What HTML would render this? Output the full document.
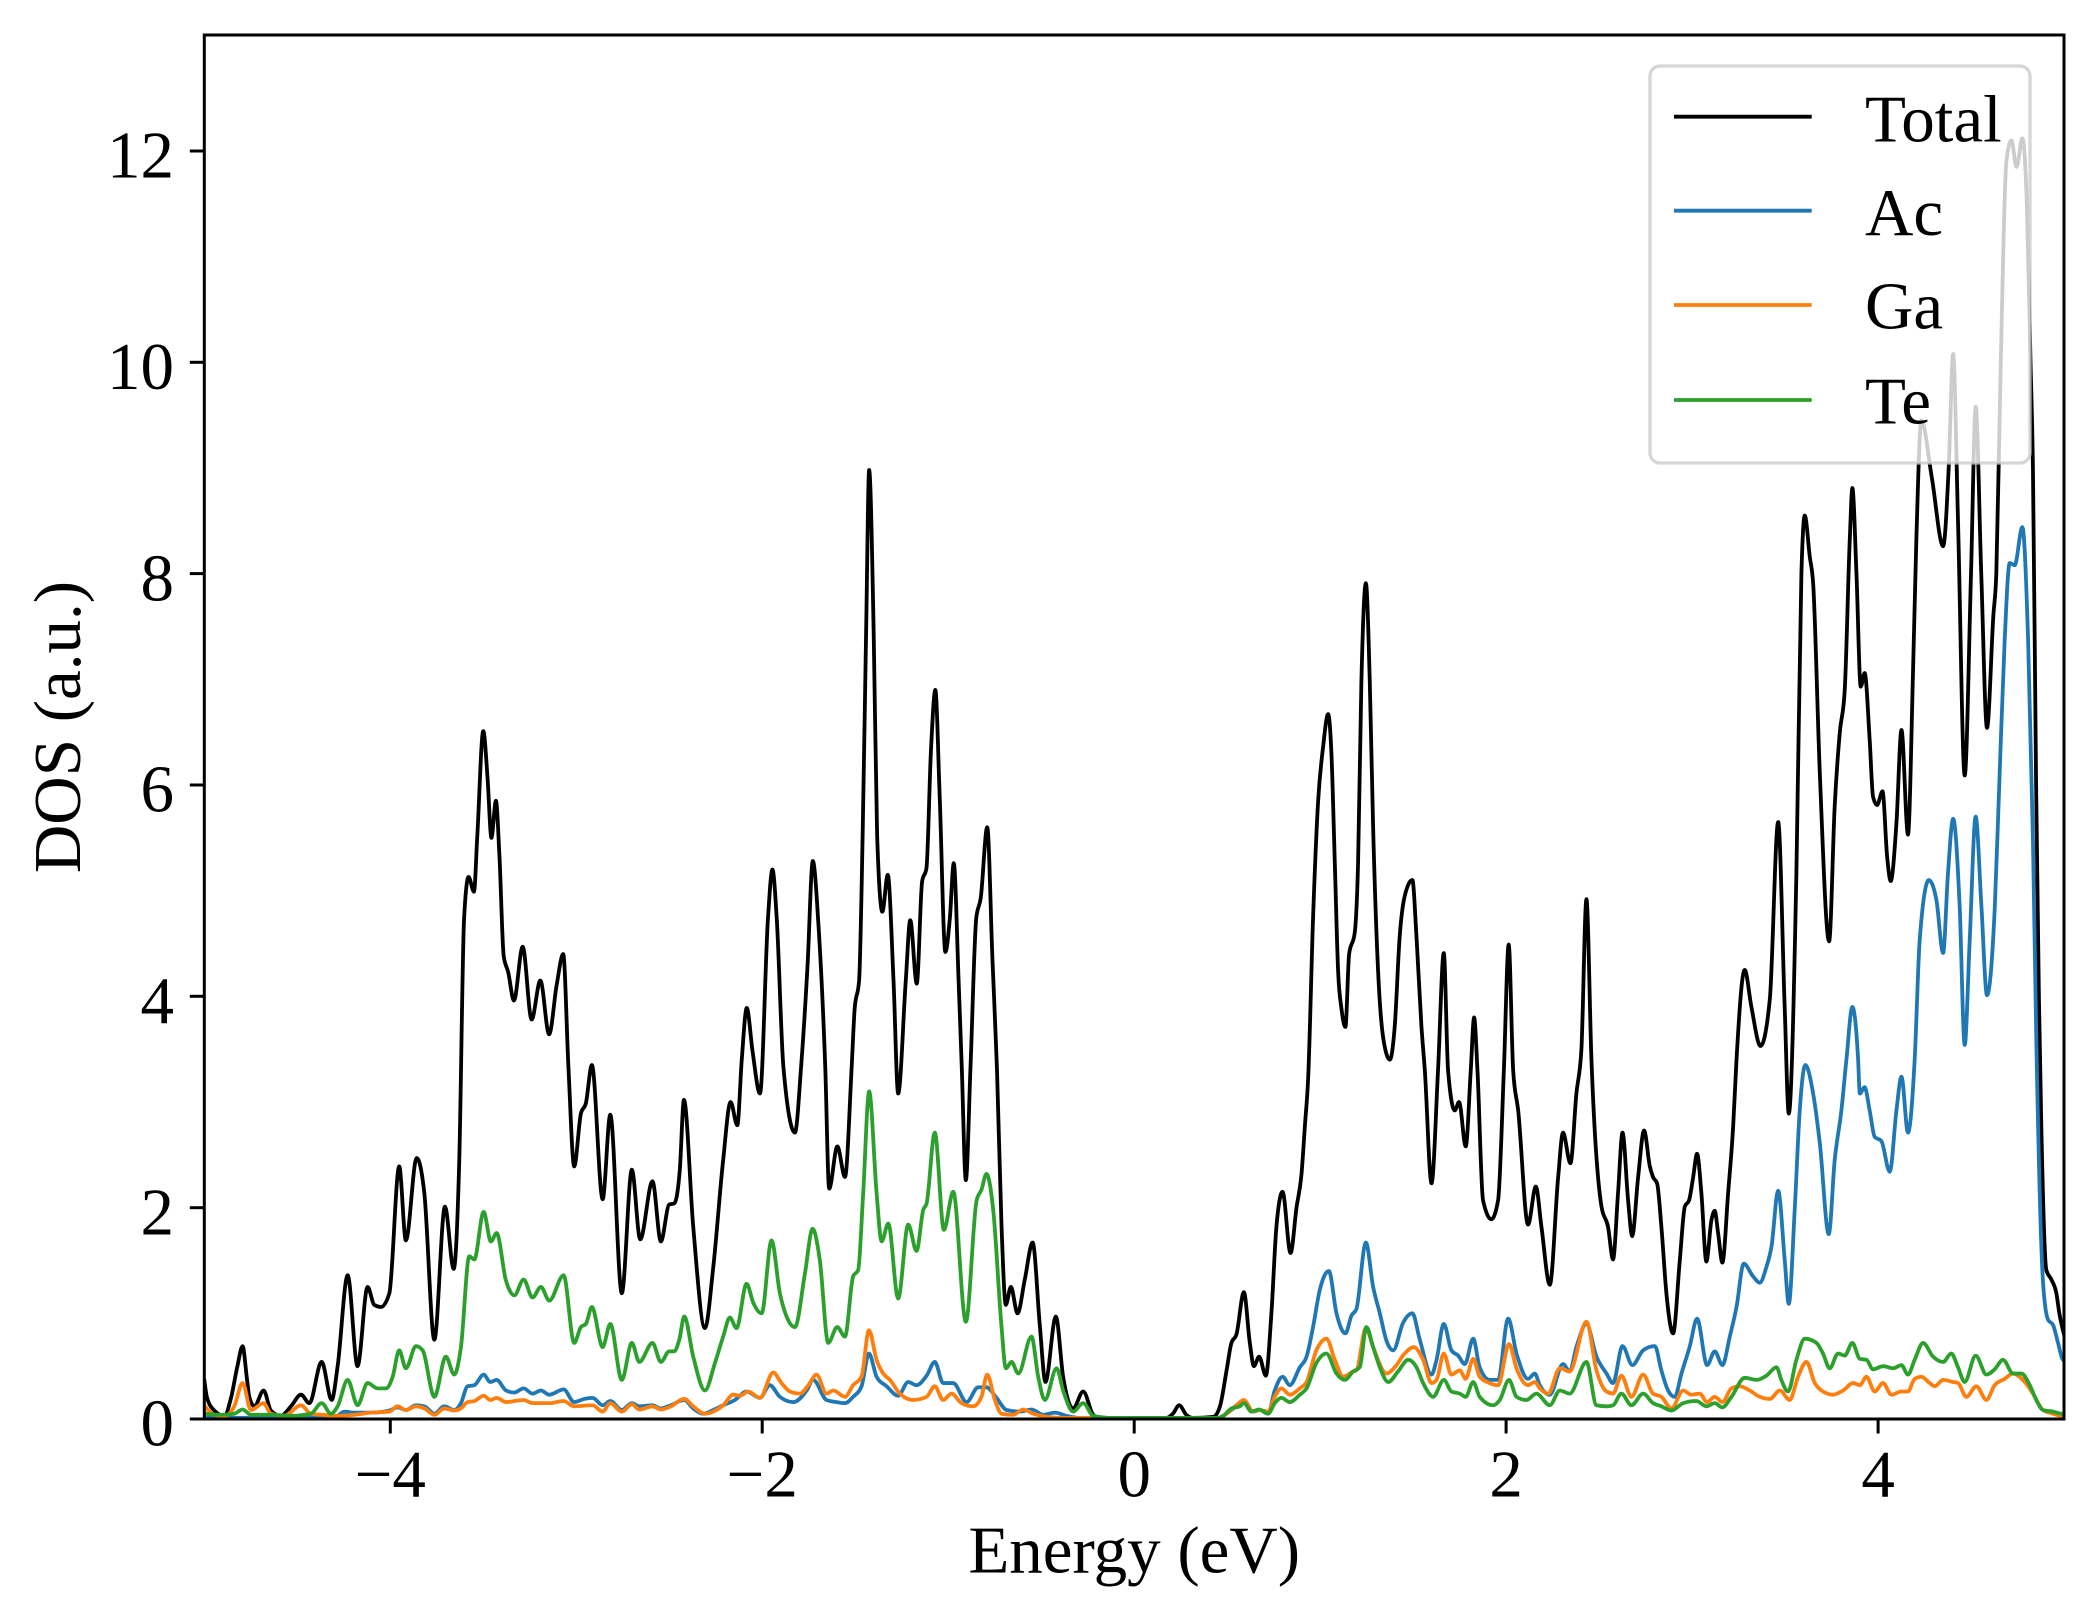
<!DOCTYPE html>
<html>
<head>
<meta charset="utf-8">
<style>
html,body{margin:0;padding:0;background:#fff;}
svg{display:block;}
text{font-family:"Liberation Serif","Times New Roman",serif;fill:#000;}
</style>
</head>
<body>
<svg id="chart" width="2097" height="1617" viewBox="0 0 2097 1617" xmlns="http://www.w3.org/2000/svg">
<rect x="0" y="0" width="2097" height="1617" fill="#fff"/>
<defs>
<clipPath id="ax"><rect x="204.3" y="35" width="1859.7" height="1384"/></clipPath>
</defs>

<g clip-path="url(#ax)">
<g transform="matrix(185.97 0 0 -105.67 1134.15 1419)" fill="none" stroke-linejoin="round" stroke-linecap="round">
<polyline class="d" vector-effect="non-scaling-stroke" stroke="#000000" stroke-width="3.8" points="-5.0,0.37 -4.985,0.2 -4.946,0.08 -4.892,0.03 -4.855,0.21 -4.822,0.5 -4.794,0.69 -4.772,0.4 -4.758,0.21 -4.731,0.12 -4.681,0.27 -4.642,0.08 -4.588,0.03 -4.534,0.12 -4.48,0.23 -4.435,0.15 -4.369,0.54 -4.315,0.18 -4.283,0.5 -4.229,1.36 -4.176,0.5 -4.122,1.25 -4.086,1.08 -4.05,1.06 -4.005,1.19 -3.952,2.39 -3.916,1.69 -3.858,2.47 -3.817,2.14 -3.763,0.75 -3.706,2.01 -3.659,1.42 -3.629,2.45 -3.603,4.74 -3.579,5.13 -3.55,4.99 -3.532,5.52 -3.5,6.51 -3.477,6.07 -3.456,5.5 -3.432,5.85 -3.413,5.33 -3.39,4.38 -3.366,4.23 -3.335,3.96 -3.288,4.47 -3.24,3.78 -3.193,4.15 -3.146,3.64 -3.105,4.11 -3.07,4.4 -3.042,3.33 -3.011,2.39 -2.975,2.89 -2.948,2.99 -2.916,3.35 -2.858,2.08 -2.817,2.88 -2.755,1.19 -2.701,2.36 -2.656,1.7 -2.59,2.25 -2.545,1.68 -2.5,2.03 -2.473,2.04 -2.443,2.36 -2.421,3.02 -2.371,1.82 -2.308,0.86 -2.263,1.44 -2.21,2.45 -2.17,3.0 -2.134,2.78 -2.11,3.4 -2.083,3.89 -2.052,3.48 -2.012,3.08 -1.969,4.74 -1.945,5.2 -1.922,4.74 -1.886,3.33 -1.824,2.71 -1.791,3.33 -1.756,4.3 -1.728,5.28 -1.697,4.66 -1.661,3.33 -1.64,2.18 -1.596,2.58 -1.555,2.29 -1.519,3.33 -1.503,3.88 -1.479,4.15 -1.46,5.52 -1.441,7.48 -1.425,8.98 -1.401,7.48 -1.382,5.52 -1.354,4.8 -1.325,5.15 -1.294,4.15 -1.269,3.08 -1.228,4.15 -1.204,4.72 -1.169,4.12 -1.14,5.09 -1.117,5.21 -1.093,6.31 -1.069,6.9 -1.046,5.91 -1.015,4.42 -0.991,4.74 -0.97,5.26 -0.944,4.15 -0.927,3.33 -0.905,2.26 -0.88,3.33 -0.849,4.74 -0.825,4.93 -0.79,5.6 -0.762,4.35 -0.738,3.33 -0.713,1.82 -0.69,1.08 -0.663,1.25 -0.627,1.0 -0.588,1.32 -0.546,1.67 -0.507,0.88 -0.477,0.35 -0.421,0.97 -0.382,0.4 -0.328,0.1 -0.274,0.26 -0.22,0.04 -0.185,0.01 0.174,0.01 0.21,0.054 0.242,0.13 0.281,0.038 0.317,0.01 0.425,0.02 0.461,0.117 0.497,0.46 0.523,0.72 0.55,0.8 0.59,1.2 0.622,0.72 0.644,0.5 0.672,0.59 0.708,0.41 0.738,1.0 0.765,1.82 0.798,2.15 0.841,1.57 0.873,2.0 0.9,2.32 0.918,2.77 0.936,3.24 0.962,4.74 0.989,5.84 1.016,6.36 1.043,6.67 1.061,6.29 1.079,5.26 1.097,4.23 1.115,3.88 1.136,3.71 1.156,4.4 1.186,4.6 1.204,5.26 1.222,6.98 1.246,7.91 1.267,6.98 1.285,5.6 1.312,4.23 1.339,3.61 1.375,3.4 1.401,3.71 1.428,4.57 1.455,4.95 1.496,5.1 1.518,4.57 1.545,3.71 1.563,3.3 1.599,2.23 1.634,3.3 1.665,4.41 1.688,3.3 1.724,2.92 1.747,3.0 1.783,2.58 1.81,3.3 1.828,3.8 1.846,3.3 1.876,2.07 1.921,1.89 1.957,2.07 1.988,3.3 2.014,4.49 2.038,3.3 2.065,2.92 2.118,1.84 2.16,2.2 2.19,1.82 2.235,1.27 2.28,2.29 2.306,2.71 2.346,2.42 2.378,3.08 2.405,3.5 2.432,4.92 2.459,3.4 2.513,2.01 2.548,1.82 2.575,1.51 2.602,2.14 2.626,2.71 2.656,2.07 2.678,1.73 2.71,2.29 2.742,2.73 2.773,2.39 2.79,2.29 2.812,2.23 2.835,1.82 2.862,1.19 2.898,0.81 2.934,1.5 2.961,2.01 2.984,2.07 3.006,2.29 3.027,2.51 3.05,2.14 3.077,1.49 3.104,1.88 3.122,1.97 3.14,1.76 3.163,1.48 3.194,2.14 3.221,2.77 3.239,3.4 3.283,4.25 3.319,3.9 3.368,3.53 3.418,3.97 3.463,5.65 3.498,3.9 3.52,2.89 3.561,5.16 3.588,8.0 3.606,8.55 3.633,8.16 3.651,7.91 3.687,6.11 3.737,4.52 3.767,5.8 3.794,6.49 3.821,6.9 3.848,8.32 3.862,8.81 3.884,8.0 3.907,6.93 3.928,7.06 3.955,6.43 3.973,5.89 3.995,5.81 4.024,5.94 4.049,5.32 4.068,5.09 4.099,5.64 4.126,6.52 4.161,5.53 4.188,7.06 4.206,8.32 4.233,9.45 4.29,8.9 4.35,8.26 4.38,9.0 4.404,10.08 4.43,8.5 4.466,6.09 4.5,8.0 4.525,9.58 4.555,8.0 4.586,6.54 4.62,7.6 4.636,8.0 4.66,10.0 4.69,11.9 4.717,12.1 4.745,11.85 4.776,12.12 4.8,11.5 4.82,10.0 4.833,9.0 4.85,6.0 4.865,4.0 4.878,2.77 4.905,1.41 4.932,1.32 4.959,1.19 4.975,1.0 5.0,0.8"/>
<polyline class="d" vector-effect="non-scaling-stroke" stroke="#1f77b4" stroke-width="3.8" points="-5.0,0.01 -4.3,0.015 -4.247,0.07 -4.194,0.06 -4.104,0.06 -4.005,0.08 -3.961,0.11 -3.916,0.085 -3.862,0.13 -3.817,0.12 -3.763,0.05 -3.71,0.12 -3.656,0.085 -3.62,0.15 -3.584,0.31 -3.548,0.32 -3.498,0.42 -3.462,0.35 -3.428,0.37 -3.378,0.27 -3.333,0.25 -3.283,0.29 -3.235,0.24 -3.19,0.27 -3.145,0.23 -3.068,0.28 -3.011,0.16 -2.957,0.19 -2.912,0.2 -2.858,0.13 -2.817,0.17 -2.755,0.085 -2.701,0.15 -2.661,0.12 -2.59,0.13 -2.545,0.1 -2.491,0.13 -2.419,0.18 -2.371,0.1 -2.317,0.05 -2.263,0.085 -2.21,0.13 -2.147,0.18 -2.084,0.26 -2.012,0.2 -1.959,0.32 -1.905,0.21 -1.833,0.16 -1.761,0.27 -1.726,0.37 -1.654,0.18 -1.6,0.16 -1.555,0.15 -1.511,0.21 -1.466,0.31 -1.426,0.62 -1.385,0.4 -1.331,0.31 -1.269,0.22 -1.215,0.35 -1.17,0.32 -1.116,0.41 -1.072,0.54 -1.027,0.34 -0.973,0.34 -0.901,0.16 -0.839,0.3 -0.794,0.3 -0.74,0.2 -0.686,0.085 -0.614,0.07 -0.552,0.09 -0.489,0.04 -0.426,0.06 -0.364,0.03 -0.292,0.01 0.45,0.01 0.479,0.03 0.55,0.12 0.59,0.16 0.64,0.07 0.676,0.085 0.72,0.05 0.756,0.27 0.798,0.4 0.837,0.32 0.891,0.49 0.927,0.59 0.962,0.87 0.998,1.22 1.047,1.4 1.088,1.0 1.136,0.81 1.169,0.98 1.195,1.04 1.246,1.67 1.285,1.25 1.321,1.0 1.357,0.74 1.393,0.65 1.446,0.91 1.496,1.0 1.536,0.75 1.599,0.42 1.626,0.56 1.665,0.9 1.706,0.65 1.742,0.6 1.778,0.52 1.823,0.76 1.858,0.49 1.912,0.37 1.957,0.37 2.011,0.95 2.056,0.62 2.118,0.38 2.154,0.43 2.181,0.32 2.235,0.23 2.306,0.52 2.342,0.45 2.378,0.68 2.432,0.9 2.486,0.59 2.54,0.43 2.575,0.34 2.626,0.69 2.679,0.51 2.737,0.65 2.8,0.69 2.835,0.46 2.871,0.27 2.907,0.21 2.943,0.43 2.988,0.69 3.027,0.95 3.081,0.51 3.122,0.64 3.163,0.51 3.203,0.78 3.239,1.06 3.278,1.47 3.328,1.35 3.364,1.29 3.4,1.44 3.427,1.63 3.463,2.16 3.498,1.51 3.52,1.09 3.552,1.98 3.579,2.92 3.609,3.35 3.651,3.08 3.687,2.61 3.735,1.75 3.767,2.45 3.803,2.92 3.83,3.4 3.862,3.9 3.893,3.4 3.902,3.08 3.928,3.14 3.955,2.92 3.982,2.67 4.018,2.63 4.063,2.34 4.099,2.92 4.126,3.24 4.161,2.71 4.197,3.4 4.224,4.53 4.273,5.1 4.314,4.91 4.35,4.41 4.376,5.16 4.404,5.68 4.439,4.85 4.466,3.54 4.493,4.53 4.525,5.7 4.556,4.85 4.586,4.01 4.628,4.85 4.654,6.11 4.681,7.37 4.708,8.1 4.735,8.08 4.776,8.44 4.807,7.37 4.833,5.48 4.851,3.6 4.887,1.3 4.914,0.94 4.941,0.89 4.968,0.72 4.991,0.57 5.0,0.55"/>
<polyline class="d" vector-effect="non-scaling-stroke" stroke="#ff7f0e" stroke-width="3.8" points="-5.0,0.13 -4.946,0.04 -4.892,0.03 -4.839,0.12 -4.794,0.34 -4.749,0.085 -4.681,0.15 -4.642,0.05 -4.57,0.03 -4.48,0.13 -4.427,0.05 -4.369,0.04 -4.283,0.03 -4.194,0.04 -4.104,0.06 -4.005,0.07 -3.961,0.12 -3.916,0.085 -3.862,0.12 -3.817,0.1 -3.763,0.04 -3.71,0.1 -3.656,0.08 -3.62,0.1 -3.584,0.16 -3.548,0.17 -3.498,0.22 -3.462,0.18 -3.428,0.2 -3.378,0.16 -3.283,0.18 -3.235,0.15 -3.145,0.15 -3.068,0.17 -3.011,0.12 -2.912,0.13 -2.858,0.07 -2.817,0.15 -2.755,0.07 -2.701,0.14 -2.661,0.09 -2.59,0.12 -2.545,0.09 -2.491,0.12 -2.419,0.19 -2.371,0.12 -2.308,0.05 -2.263,0.07 -2.21,0.13 -2.156,0.23 -2.12,0.22 -2.075,0.26 -2.012,0.2 -1.941,0.44 -1.896,0.34 -1.851,0.26 -1.797,0.24 -1.752,0.32 -1.708,0.42 -1.654,0.24 -1.618,0.27 -1.555,0.21 -1.511,0.32 -1.466,0.4 -1.426,0.84 -1.385,0.56 -1.349,0.43 -1.313,0.37 -1.26,0.24 -1.188,0.18 -1.116,0.21 -1.072,0.31 -1.027,0.18 -0.982,0.24 -0.928,0.15 -0.865,0.12 -0.821,0.21 -0.79,0.42 -0.749,0.18 -0.713,0.05 -0.65,0.04 -0.597,0.09 -0.543,0.05 -0.471,0.02 -0.38,0.01 0.45,0.01 0.479,0.03 0.55,0.13 0.59,0.18 0.64,0.07 0.676,0.085 0.72,0.07 0.756,0.21 0.792,0.29 0.837,0.23 0.891,0.29 0.927,0.35 0.98,0.65 1.034,0.76 1.079,0.56 1.124,0.4 1.178,0.45 1.195,0.46 1.246,0.86 1.285,0.68 1.357,0.43 1.402,0.49 1.455,0.62 1.504,0.68 1.554,0.56 1.599,0.34 1.626,0.37 1.665,0.62 1.706,0.42 1.751,0.46 1.783,0.38 1.823,0.57 1.858,0.4 1.912,0.34 1.957,0.32 2.016,0.71 2.056,0.48 2.118,0.32 2.154,0.35 2.181,0.29 2.226,0.24 2.289,0.48 2.342,0.45 2.432,0.92 2.486,0.46 2.54,0.26 2.575,0.24 2.62,0.41 2.674,0.21 2.737,0.42 2.79,0.24 2.835,0.21 2.889,0.1 2.952,0.27 2.997,0.23 3.041,0.24 3.081,0.16 3.122,0.21 3.163,0.16 3.212,0.29 3.256,0.31 3.31,0.27 3.364,0.21 3.418,0.19 3.472,0.27 3.525,0.18 3.57,0.4 3.615,0.54 3.66,0.34 3.704,0.26 3.758,0.23 3.812,0.27 3.866,0.34 3.902,0.32 3.938,0.4 3.982,0.26 4.027,0.34 4.072,0.23 4.126,0.26 4.161,0.26 4.197,0.38 4.233,0.4 4.278,0.34 4.305,0.31 4.35,0.37 4.403,0.35 4.43,0.34 4.475,0.21 4.529,0.31 4.583,0.18 4.627,0.32 4.681,0.38 4.726,0.43 4.789,0.35 4.833,0.24 4.887,0.085 4.941,0.05 4.991,0.03 5.0,0.03"/>
<polyline class="d" vector-effect="non-scaling-stroke" stroke="#2ca02c" stroke-width="3.8" points="-5.0,0.05 -4.91,0.04 -4.839,0.05 -4.794,0.09 -4.749,0.04 -4.642,0.04 -4.534,0.03 -4.427,0.05 -4.369,0.15 -4.319,0.05 -4.283,0.12 -4.229,0.37 -4.176,0.13 -4.122,0.34 -4.068,0.29 -4.023,0.29 -3.987,0.4 -3.952,0.65 -3.916,0.48 -3.862,0.69 -3.826,0.65 -3.763,0.21 -3.701,0.59 -3.656,0.42 -3.62,0.68 -3.575,1.54 -3.548,1.51 -3.498,1.96 -3.459,1.68 -3.428,1.76 -3.378,1.31 -3.333,1.17 -3.283,1.32 -3.235,1.15 -3.19,1.25 -3.145,1.12 -3.068,1.36 -3.011,0.72 -2.975,0.87 -2.948,0.9 -2.916,1.06 -2.858,0.68 -2.817,0.9 -2.755,0.37 -2.701,0.72 -2.661,0.54 -2.59,0.72 -2.545,0.54 -2.5,0.64 -2.473,0.64 -2.446,0.75 -2.419,0.97 -2.371,0.59 -2.308,0.27 -2.254,0.53 -2.21,0.78 -2.174,0.96 -2.138,0.86 -2.084,1.28 -2.048,1.1 -2.003,1.0 -1.95,1.69 -1.905,1.19 -1.869,0.97 -1.824,0.87 -1.77,1.38 -1.729,1.8 -1.69,1.5 -1.645,0.72 -1.597,0.87 -1.555,0.78 -1.511,1.35 -1.484,1.41 -1.457,2.14 -1.425,3.1 -1.385,2.14 -1.358,1.68 -1.322,1.85 -1.269,1.14 -1.215,1.84 -1.17,1.59 -1.134,1.98 -1.116,2.04 -1.072,2.71 -1.023,1.79 -0.973,2.15 -0.905,0.92 -0.847,2.07 -0.821,2.17 -0.794,2.32 -0.758,1.98 -0.713,0.87 -0.69,0.48 -0.659,0.54 -0.623,0.43 -0.552,0.78 -0.516,0.4 -0.48,0.18 -0.417,0.48 -0.382,0.27 -0.328,0.07 -0.274,0.15 -0.22,0.03 -0.113,0.01 0.45,0.01 0.479,0.03 0.523,0.1 0.568,0.12 0.59,0.15 0.631,0.07 0.672,0.09 0.72,0.05 0.756,0.15 0.792,0.2 0.837,0.16 0.891,0.23 0.927,0.29 0.98,0.53 1.034,0.62 1.088,0.43 1.133,0.37 1.178,0.45 1.213,0.49 1.249,0.87 1.285,0.68 1.321,0.49 1.366,0.35 1.419,0.45 1.473,0.56 1.518,0.49 1.554,0.34 1.608,0.21 1.665,0.37 1.706,0.26 1.751,0.24 1.783,0.21 1.823,0.35 1.858,0.21 1.93,0.13 1.966,0.18 2.016,0.37 2.056,0.21 2.109,0.18 2.163,0.24 2.235,0.13 2.289,0.27 2.342,0.24 2.432,0.54 2.486,0.13 2.54,0.12 2.575,0.13 2.62,0.24 2.674,0.13 2.737,0.24 2.79,0.15 2.835,0.12 2.889,0.08 2.952,0.15 3.023,0.17 3.077,0.12 3.122,0.15 3.163,0.11 3.212,0.21 3.283,0.39 3.346,0.37 3.4,0.41 3.454,0.49 3.48,0.37 3.516,0.26 3.561,0.56 3.606,0.76 3.669,0.72 3.704,0.62 3.74,0.48 3.785,0.62 3.821,0.6 3.862,0.72 3.902,0.57 3.938,0.56 3.973,0.47 4.027,0.5 4.081,0.48 4.126,0.51 4.161,0.42 4.197,0.56 4.242,0.72 4.296,0.59 4.35,0.54 4.394,0.62 4.43,0.49 4.466,0.35 4.525,0.6 4.583,0.42 4.627,0.47 4.672,0.56 4.726,0.43 4.771,0.43 4.816,0.32 4.851,0.18 4.887,0.085 4.941,0.07 4.991,0.05 5.0,0.05"/>
</g>
</g>

<!-- spines -->
<rect x="204.3" y="35" width="1859.7" height="1384" fill="none" stroke="#000" stroke-width="3"/>

<!-- x ticks -->
<g stroke="#000" stroke-width="3">
<line x1="390.3" y1="1419" x2="390.3" y2="1433.5"/>
<line x1="762.2" y1="1419" x2="762.2" y2="1433.5"/>
<line x1="1134.2" y1="1419" x2="1134.2" y2="1433.5"/>
<line x1="1506.1" y1="1419" x2="1506.1" y2="1433.5"/>
<line x1="1878.1" y1="1419" x2="1878.1" y2="1433.5"/>
</g>
<g font-size="67" text-anchor="middle">
<text x="390.3" y="1496.7">−4</text>
<text x="762.2" y="1496.7">−2</text>
<text x="1134.2" y="1496.7">0</text>
<text x="1506.1" y="1496.7">2</text>
<text x="1878.1" y="1496.7">4</text>
</g>

<!-- y ticks -->
<g stroke="#000" stroke-width="3">
<line x1="204.3" y1="1419" x2="189.8" y2="1419"/>
<line x1="204.3" y1="1207.7" x2="189.8" y2="1207.7"/>
<line x1="204.3" y1="996.3" x2="189.8" y2="996.3"/>
<line x1="204.3" y1="785" x2="189.8" y2="785"/>
<line x1="204.3" y1="573.6" x2="189.8" y2="573.6"/>
<line x1="204.3" y1="362.3" x2="189.8" y2="362.3"/>
<line x1="204.3" y1="151" x2="189.8" y2="151"/>
</g>
<g font-size="67" text-anchor="end">
<text x="174" y="1445.7">0</text>
<text x="174" y="1234.4">2</text>
<text x="174" y="1023">4</text>
<text x="174" y="811.7">6</text>
<text x="174" y="600.3">8</text>
<text x="174" y="389">10</text>
<text x="174" y="177.7">12</text>
</g>

<!-- axis labels -->
<text x="1134.2" y="1572.7" font-size="67" text-anchor="middle">Energy (eV)</text>
<text transform="translate(80,727) rotate(-90)" font-size="67" text-anchor="middle">DOS (a.u.)</text>

<!-- legend -->
<rect x="1650" y="66" width="380" height="397" rx="10" ry="10" fill="#ffffff" fill-opacity="0.8" stroke="#cccccc" stroke-opacity="0.8" stroke-width="3.3"/>
<g stroke-width="3.8">
<line x1="1674" y1="116.7" x2="1811.7" y2="116.7" stroke="#000000"/>
<line x1="1674" y1="210.7" x2="1811.7" y2="210.7" stroke="#1f77b4"/>
<line x1="1674" y1="305" x2="1811.7" y2="305" stroke="#ff7f0e"/>
<line x1="1674" y1="400" x2="1811.7" y2="400" stroke="#2ca02c"/>
</g>
<g font-size="67">
<text x="1865" y="141.7">Total</text>
<text x="1865" y="235">Ac</text>
<text x="1865" y="328.3">Ga</text>
<text x="1865" y="423.3">Te</text>
</g>
</svg>
<script>
(function(){
  try{
    var NS="http://www.w3.org/2000/svg";
    var pls=document.querySelectorAll("polyline.d");
    for(var k=0;k<pls.length;k++){
      var pl=pls[k];
      var raw=pl.getAttribute("points").trim().split(/\s+/);
      var xs=[],ys=[];
      for(var i=0;i<raw.length;i++){
        var a=raw[i].split(",");
        var x=parseFloat(a[0]),y=parseFloat(a[1]);
        if(xs.length&&x<=xs[xs.length-1]) continue;
        xs.push(x);ys.push(y);
      }
      var n=xs.length; if(n<3) continue;
      var h=[],s=[];
      for(i=0;i<n-1;i++){h[i]=xs[i+1]-xs[i];s[i]=(ys[i+1]-ys[i])/h[i];}
      var m=new Array(n);
      for(i=1;i<n-1;i++){
        var s0=s[i-1],s1=s[i],h0=h[i-1],h1=h[i];
        var p=(s0*h1+s1*h0)/(h0+h1);
        m[i]=(Math.sign(s0)+Math.sign(s1))*Math.min(Math.abs(s0),Math.abs(s1),0.5*Math.abs(p))||0;
      }
      m[0]=(3*s[0]-m[1])/2; if(Math.sign(m[0])!==Math.sign(s[0])) m[0]=0;
      m[n-1]=(3*s[n-2]-m[n-2])/2; if(Math.sign(m[n-1])!==Math.sign(s[n-2])) m[n-1]=0;
      var d="M"+xs[0]+","+ys[0];
      for(i=0;i<n-1;i++){
        var dx=h[i]/3;
        d+="C"+(xs[i]+dx).toFixed(5)+","+(ys[i]+m[i]*dx).toFixed(5)+" "+(xs[i+1]-dx).toFixed(5)+","+(ys[i+1]-m[i+1]*dx).toFixed(5)+" "+xs[i+1]+","+ys[i+1];
      }
      var path=document.createElementNS(NS,"path");
      path.setAttribute("d",d);
      path.setAttribute("fill","none");
      path.setAttribute("stroke",pl.getAttribute("stroke"));
      path.setAttribute("stroke-width",pl.getAttribute("stroke-width"));
      path.setAttribute("vector-effect","non-scaling-stroke");
      path.setAttribute("stroke-linejoin","round");
      path.setAttribute("stroke-linecap","round");
      pl.parentNode.replaceChild(path,pl);
    }
  }catch(e){}
})();
</script>
</body>
</html>
